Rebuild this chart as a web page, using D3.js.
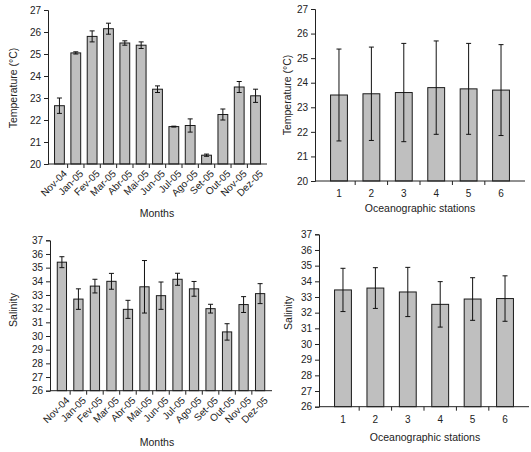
<!DOCTYPE html>
<html>
<head>
<meta charset="utf-8">
<script src="https://cdn.jsdelivr.net/npm/d3@7"></script>
<style>
  body { margin: 0; background: #fff; }
  svg { display: block; font-family: "Liberation Sans", Arial, sans-serif; }
  .domain, .tick line { stroke: #222; }
  .tick text { fill: #222; font-size: 10px; }
  .lbl { fill: #222; font-size: 10.5px; }
</style>
</head>
<body>
<div class="container"></div>
<script>
const WIDTH = 531, HEIGHT = 452;

var months = ['Nov-04','Jan-05','Fev-05','Mar-05','Abr-05','Mai-05','Jun-05','Jul-05','Ago-05','Set-05','Out-05','Nov-05','Dez-05'];
var stations = ['1','2','3','4','5','6'];

var tempMonth    = [22.65, 25.05, 25.8, 26.15, 25.5, 25.4, 23.4, 21.7, 21.75, 20.4, 22.25, 23.5, 23.1];
var tempMonthErr = [0.35, 0.05, 0.25, 0.25, 0.1, 0.15, 0.15, 0.02, 0.3, 0.05, 0.25, 0.25, 0.3];
var tempStation    = [23.5, 23.55, 23.6, 23.8, 23.75, 23.7];
var tempStationErr = [1.87, 1.9, 2.0, 1.9, 1.85, 1.85];

var salMonth    = [35.4, 32.7, 33.65, 34.0, 31.95, 33.6, 32.95, 34.15, 33.45, 32.0, 30.3, 32.3, 33.1];
var salMonthErr = [0.4, 0.75, 0.5, 0.58, 0.66, 1.92, 1.0, 0.44, 0.54, 0.32, 0.6, 0.58, 0.73];
var salStation    = [33.45, 33.57, 33.32, 32.53, 32.87, 32.9];
var salStationErr = [1.38, 1.3, 1.57, 1.45, 1.36, 1.45];

var tempTicks = d3.range(20, 28);
var salTicks = d3.range(26, 38);

var svg = d3.select('.container').append('svg')
    .attr('width', WIDTH).attr('height', HEIGHT);

function panel(o) {
  var g = svg.append('g');
  var x = d3.scaleBand().domain(o.cats).range([o.x0, o.x1]).padding(o.pad);
  var y = d3.scaleLinear().domain(o.dom).range([o.y0, o.y1]);
  var data = o.cats.map(function(c, i) { return {c: c, v: o.vals[i], e: o.errs[i]}; });

  // bars
  g.selectAll('rect.bar').data(data).enter().append('rect')
    .attr('x', function(d) { return x(d.c); })
    .attr('width', x.bandwidth())
    .attr('y', function(d) { return y(d.v); })
    .attr('height', function(d) { return y(o.dom[0]) - y(d.v); })
    .attr('fill', '#bfbfbf').attr('stroke', '#1a1a1a').attr('stroke-width', 1);

  // error bars
  var eb = g.selectAll('g.err').data(data).enter().append('g')
    .attr('stroke', '#111').attr('stroke-width', 1);
  eb.append('line')
    .attr('x1', function(d) { return x(d.c) + x.bandwidth()/2; })
    .attr('x2', function(d) { return x(d.c) + x.bandwidth()/2; })
    .attr('y1', function(d) { return y(d.v + d.e); })
    .attr('y2', function(d) { return y(d.v - d.e); });
  [1, -1].forEach(function(s) {
    eb.append('line')
      .attr('x1', function(d) { return x(d.c) + x.bandwidth()/2 - 2.5; })
      .attr('x2', function(d) { return x(d.c) + x.bandwidth()/2 + 2.5; })
      .attr('y1', function(d) { return y(d.v + s*d.e); })
      .attr('y2', function(d) { return y(d.v + s*d.e); });
  });

  // y axis
  g.append('g').attr('transform', 'translate(' + o.x0 + ',0)')
    .call(d3.axisLeft(y).tickValues(o.ticks).tickSize(4).tickPadding(3).tickFormat(d3.format('d')));

  // x axis: line + ticks at band edges
  var xa = g.append('g').attr('transform', 'translate(0,' + o.y0 + ')');
  xa.append('line').attr('x1', o.x0).attr('x2', o.x1).attr('stroke', '#222');
  var step = x.step();
  xa.selectAll('line.t').data(d3.range(1, o.cats.length)).enter().append('line')
    .attr('x1', function(i) { return o.x0 + x.paddingOuter()*step + i*step - x.paddingInner()*step/2; })
    .attr('x2', function(i) { return o.x0 + x.paddingOuter()*step + i*step - x.paddingInner()*step/2; })
    .attr('y1', 0).attr('y2', 4).attr('stroke', '#222');

  var tl = xa.selectAll('text.t').data(o.cats).enter().append('text')
    .attr('class', 'lbl').style('font-size', '10px');
  if (o.rotate) {
    tl.attr('text-anchor', 'end')
      .attr('transform', function(c) { return 'translate(' + (x(c) + x.bandwidth()/2 + 4) + ',6) rotate(-45)'; })
      .attr('dy', '0.6em')
      .text(function(c) { return c; });
  } else {
    tl.attr('text-anchor', 'middle')
      .attr('x', function(c) { return x(c) + x.bandwidth()/2; })
      .attr('y', 16)
      .text(function(c) { return c; });
  }

  g.append('text').attr('class', 'lbl').attr('text-anchor', 'middle')
    .attr('x', o.xlab[0]).attr('y', o.xlab[1]).text(o.xtitle);
  g.append('text').attr('class', 'lbl').attr('text-anchor', 'middle')
    .attr('transform', 'translate(' + o.ylab[0] + ',' + o.ylab[1] + ') rotate(-90)')
    .text(o.ytitle);
}

panel({cats: months, vals: tempMonth, errs: tempMonthErr, dom: [20, 27], ticks: tempTicks,
  x0: 48, x1: 267, y0: 164, y1: 10, pad: 0.4, rotate: true,
  xtitle: 'Months', xlab: [157, 217], ytitle: 'Temperature (°C)', ylab: [17, 88]});
panel({cats: stations, vals: tempStation, errs: tempStationErr, dom: [20, 27], ticks: tempTicks,
  x0: 315, x1: 525, y0: 181, y1: 9, pad: 0.48, rotate: false,
  xtitle: 'Oceanographic stations', xlab: [420, 212], ytitle: 'Temperature (°C)', ylab: [291, 95]});
panel({cats: months, vals: salMonth, errs: salMonthErr, dom: [26, 37], ticks: salTicks,
  x0: 50, x1: 272, y0: 390.7, y1: 240.3, pad: 0.44, rotate: true,
  xtitle: 'Months', xlab: [157, 446], ytitle: 'Salinity', ylab: [17, 310]});
panel({cats: stations, vals: salStation, errs: salStationErr, dom: [26, 37], ticks: salTicks,
  x0: 319, x1: 529, y0: 406.7, y1: 234.3, pad: 0.48, rotate: false,
  xtitle: 'Oceanographic stations', xlab: [425, 441], ytitle: 'Salinity', ylab: [292, 313]});
</script>
</body>
</html>
